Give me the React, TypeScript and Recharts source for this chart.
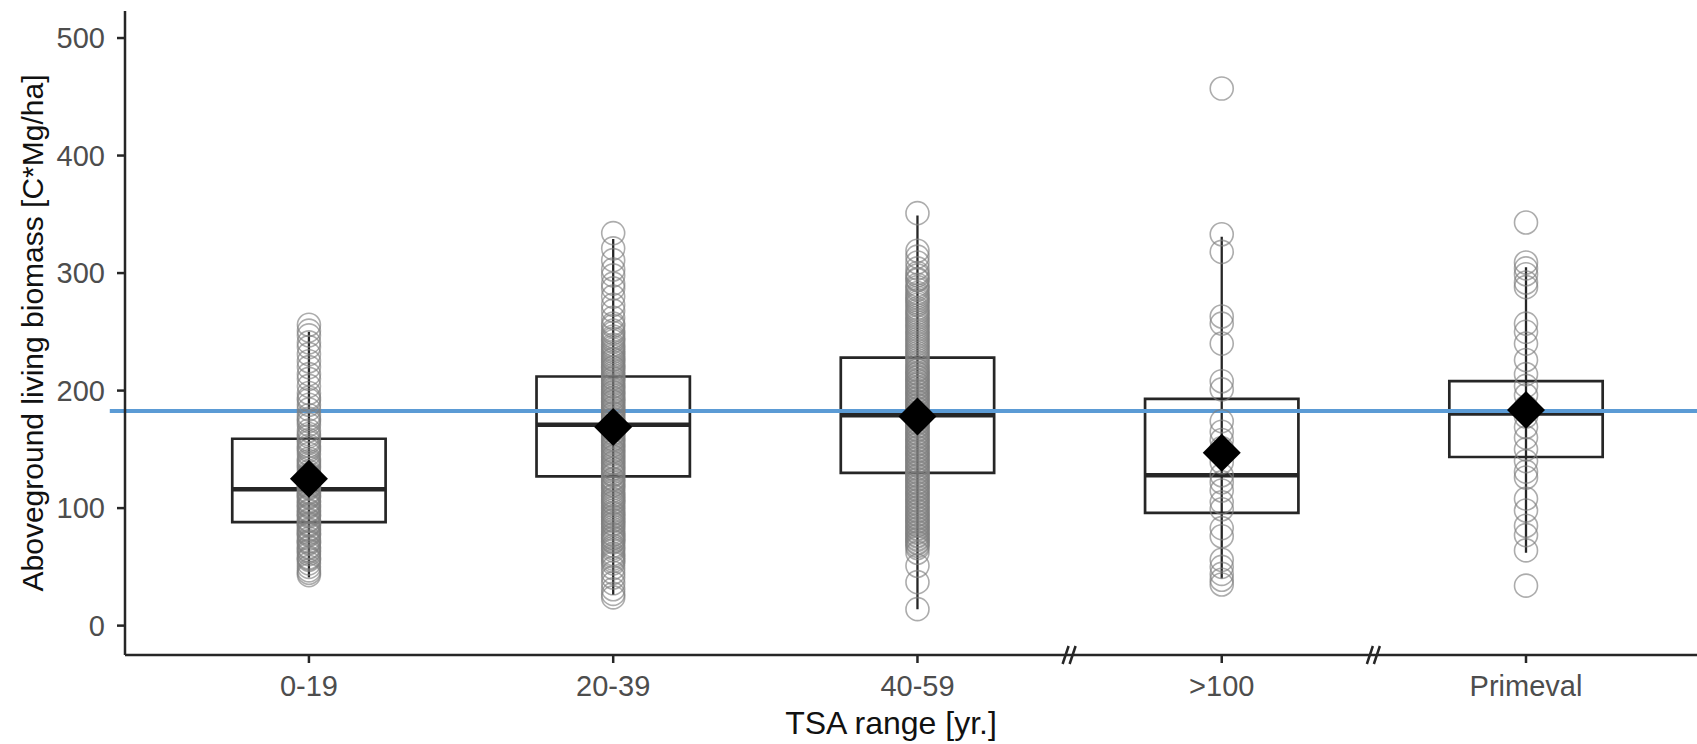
import {
  ComposedChart,
  Scatter,
  XAxis,
  YAxis,
  ReferenceArea,
  ReferenceLine,
  ReferenceDot,
  Label,
} from 'recharts';

const categories = ['0-19', '20-39', '40-59', '>100', 'Primeval'];

// box statistics
const whiskerLow = [41, 26, 14, 40, 62];
const q1 = [88, 127, 130, 96, 143.5];
const median = [116, 171, 179, 128, 180.5];
const q3 = [159, 212, 228, 193, 208];
const whiskerHigh = [250, 329, 349, 331, 305];
const means = [125, 169, 178, 147, 183.5];

// individual plots (hollow circles)
const pts0_19 = [
  256, 251, 247, 241, 237, 231, 225, 220, 214, 210, 204, 198, 194, 188, 184, 179, 174,
  171, 166, 163, 158, 156, 151, 149, 146, 142, 140, 136, 134, 131, 128, 126, 123, 121,
  118, 117, 114, 113, 110, 109, 106, 105, 102, 101, 98, 97, 94, 93, 90, 89, 86, 85, 82,
  81, 78, 77, 74, 72, 70, 67, 66, 63, 61, 58, 56, 53, 50, 47, 45, 43, 192, 176, 161,
  153, 138, 129, 119, 111, 103, 95, 87, 79, 71, 64, 57,
];
const pts20_39 = [
  334, 321, 311, 303, 298, 291, 287, 280, 273, 268, 262, 257, 251, 246, 242, 237, 233,
  229, 226, 222, 219, 215, 213, 210, 206, 204, 201, 198, 196, 193, 190, 188, 185, 183,
  180, 178, 175, 173, 171, 168, 166, 163, 161, 158, 156, 153, 151, 148, 146, 143, 141,
  138, 136, 133, 131, 128, 125, 122, 119, 117, 113, 110, 107, 104, 102, 98, 95, 92, 89,
  86, 84, 80, 77, 74, 71, 68, 64, 61, 57, 53, 49, 45, 41, 36, 31, 27, 24, 255, 249,
  244, 239, 235, 231, 227, 224, 220, 217, 211, 208, 203, 199, 194, 191, 186, 181, 176,
  170, 164, 159, 154, 149, 144, 139, 134, 129, 124, 120, 115, 111, 108, 105, 100, 96,
  93, 90, 87, 82, 78, 75, 72, 66, 59, 55,
];
const pts40_59 = [
  351, 319, 314, 309, 304, 298, 294, 290, 286, 281, 277, 273, 268, 264, 260, 256, 252,
  248, 244, 240, 236, 232, 228, 224, 220, 217, 214, 211, 208, 205, 202, 199, 196, 193,
  190, 187, 184, 181, 178, 175, 172, 169, 166, 163, 160, 157, 154, 151, 148, 145, 142,
  139, 136, 133, 130, 127, 124, 121, 118, 115, 112, 109, 106, 103, 100, 97, 94, 91, 88,
  85, 82, 79, 76, 73, 70, 66, 62, 51, 37, 14, 300, 295, 288, 283, 279, 275, 270, 266,
  262, 258, 254, 250, 246, 242, 238, 234, 230, 226, 222, 218, 215, 212, 209, 206, 203,
  200, 197, 194, 191, 188, 185, 182, 179, 176, 173, 170, 167, 164, 161, 158, 155, 152,
  149, 146, 143, 140, 137, 134, 131, 128, 125, 122, 119, 116, 113, 110, 107, 104, 101,
  98, 95, 92, 89, 86, 83, 80, 77, 74, 71, 68,
];
const pts100 = [
  457, 333, 318, 263, 257, 240, 208, 201, 174, 165, 158, 151, 139, 128, 122, 115, 105,
  99, 83, 76, 56, 50, 44, 39, 35,
];
const ptsPrimeval = [
  343, 309, 304, 299, 292, 288, 257, 250, 240, 226, 214, 204, 196, 186, 178, 169, 160,
  150, 140, 131, 126, 108, 98, 85, 77, 64, 34,
];

const refValue = 182.6;
const breaks = [2.5, 3.5];

const groups = [pts0_19, pts20_39, pts40_59, pts100, ptsPrimeval];
const pointData = groups.flatMap((g, i) => g.map((v) => ({ x: i, y: v })));
const meanData = means.map((m, i) => ({ x: i, y: m }));

const X_DOMAIN: [number, number] = [-0.6045, 4.562];
const Y_DOMAIN: [number, number] = [-25, 523];
const HALF = 0.252;
const FONT = '"Liberation Sans", Arial, sans-serif';
const DARK = '#262626';

const Circle = (props: any) => (
  <circle
    cx={props.cx}
    cy={props.cy}
    r={11.5}
    fill="none"
    stroke="#808080"
    strokeOpacity={0.65}
    strokeWidth={1.6}
  />
);

const Diamond = (props: any) => {
  const { cx, cy } = props;
  const s = 19;
  return (
    <polygon
      points={`${cx},${cy - s} ${cx + s},${cy} ${cx},${cy + s} ${cx - s},${cy}`}
      fill="#000"
    />
  );
};

const BreakMark = (props: any) => {
  const { cx, cy } = props;
  return (
    <g stroke={DARK} strokeWidth={2.5}>
      <line x1={cx - 7} y1={cy + 9} x2={cx - 1} y2={cy - 9} />
      <line x1={cx} y1={cy + 9} x2={cx + 6} y2={cy - 9} />
    </g>
  );
};

const YTitle = (props: any) => {
  const { viewBox } = props;
  const x = viewBox.x + 43;
  const y = viewBox.y + viewBox.height / 2;
  return (
    <text
      x={x}
      y={y}
      transform={`rotate(-90, ${x}, ${y})`}
      textAnchor="middle"
      fontSize={30}
      fontFamily={FONT}
      fill="#111"
    >
      Aboveground living biomass [C*Mg/ha]
    </text>
  );
};

const XTitle = (props: any) => {
  const { viewBox } = props;
  const x = viewBox.x + viewBox.width / 2 - 20;
  const y = viewBox.y + 79;
  return (
    <text x={x} y={y} textAnchor="middle" fontSize={32} fontFamily={FONT} fill="#111">
      TSA range [yr.]
    </text>
  );
};

export default function App() {
  return (
    <div style={{ position: 'absolute', left: 0, top: 0, background: '#fff' }}>
      <ComposedChart
        width={1697}
        height={744}
        margin={{ top: 11, right: 0, bottom: 0, left: 0 }}
      >
        <XAxis
          type="number"
          dataKey="x"
          domain={X_DOMAIN}
          allowDataOverflow
          ticks={[0, 1, 2, 3, 4]}
          tickFormatter={(v) => categories[v]}
          height={89}
          tickSize={8}
          tickMargin={12}
          stroke={DARK}
          strokeWidth={2.5}
          tick={{ fill: '#4d4d4d', fontSize: 29, fontFamily: FONT }}
        >
          <Label content={XTitle} />
        </XAxis>
        <YAxis
          type="number"
          dataKey="y"
          domain={Y_DOMAIN}
          allowDataOverflow
          ticks={[0, 100, 200, 300, 400, 500]}
          width={125}
          tickSize={8}
          tickMargin={12}
          stroke={DARK}
          strokeWidth={2.5}
          tick={{ fill: '#4d4d4d', fontSize: 29, fontFamily: FONT }}
        >
          <Label content={YTitle} />
        </YAxis>

        {categories.map((c, i) => (
          <ReferenceArea
            key={`box-${c}`}
            x1={i - HALF}
            x2={i + HALF}
            y1={q1[i]}
            y2={q3[i]}
            fill="none"
            fillOpacity={0}
            stroke={DARK}
            strokeWidth={2.7}
            strokeOpacity={1}
          />
        ))}
        {categories.map((c, i) => (
          <ReferenceLine
            key={`wh-${c}`}
            segment={[
              { x: i, y: whiskerLow[i] },
              { x: i, y: whiskerHigh[i] },
            ]}
            stroke={DARK}
            strokeWidth={2.3}
          />
        ))}

        <Scatter
          data={pointData}
          dataKey="y"
          shape={Circle}
          isAnimationActive={false}
        />

        {categories.map((c, i) => (
          <ReferenceLine
            key={`med-${c}`}
            segment={[
              { x: i - HALF, y: median[i] },
              { x: i + HALF, y: median[i] },
            ]}
            stroke={DARK}
            strokeWidth={4.5}
          />
        ))}

        <Scatter
          data={meanData}
          dataKey="y"
          shape={Diamond}
          isAnimationActive={false}
        />

        {breaks.map((b) => (
          <ReferenceDot
            key={`br-${b}`}
            x={b}
            y={Y_DOMAIN[0]}
            ifOverflow="visible"
            shape={BreakMark}
          />
        ))}

        <ReferenceLine
          segment={[
            { x: X_DOMAIN[0] - 0.05, y: refValue },
            { x: X_DOMAIN[1], y: refValue },
          ]}
          ifOverflow="visible"
          stroke="#5b9bd5"
          strokeWidth={4}
        />
      </ComposedChart>
    </div>
  );
}
